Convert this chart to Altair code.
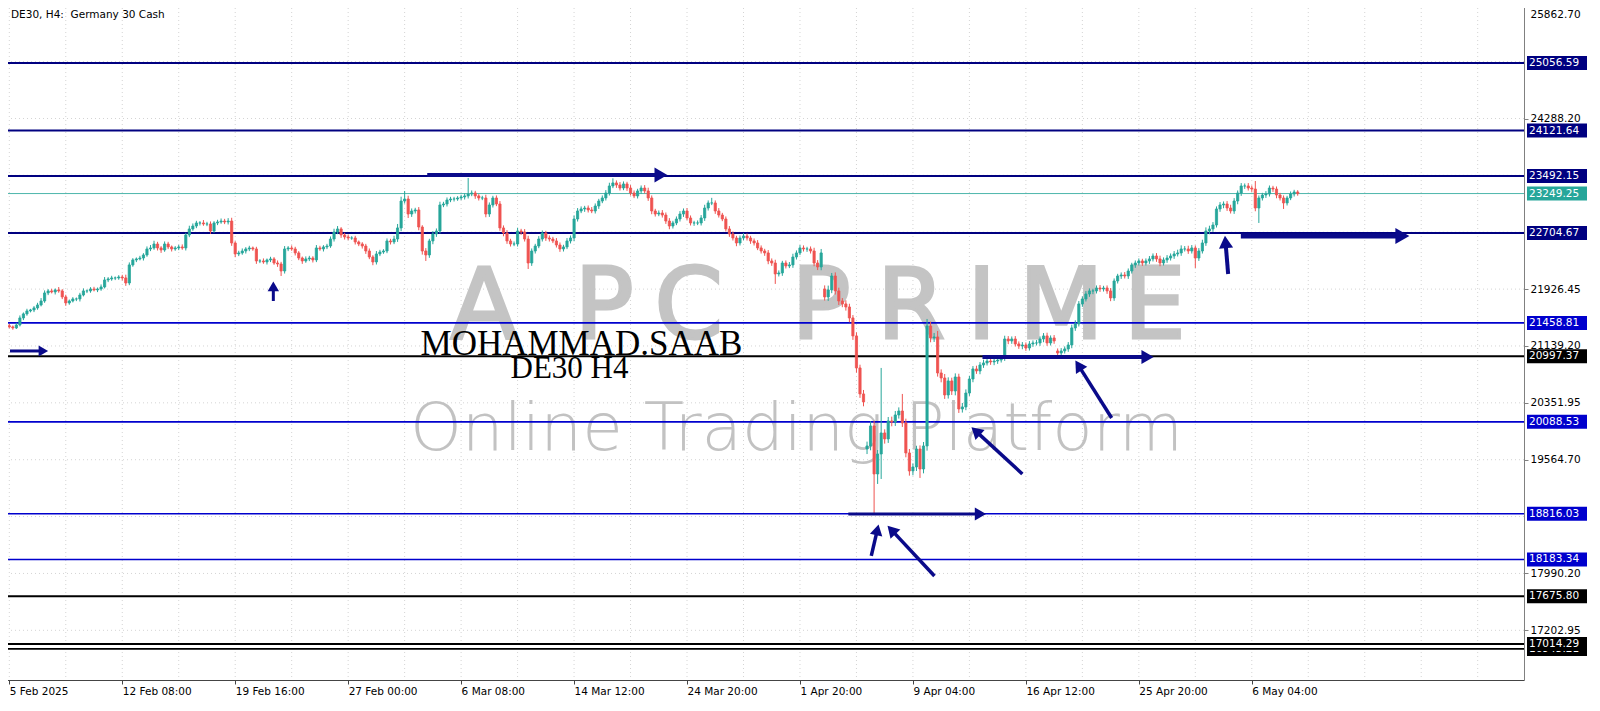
import altair as alt
import pandas as pd

# ---------------- candle data (H4 bars, bar 0 = 5 Feb 2025) ----------------
closes = [
    21403, 21389, 21430, 21527, 21583, 21624, 21638, 21666, 21707, 21762,
    21873, 21901, 21887, 21915, 21901, 21818, 21735, 21762, 21790, 21790,
    21845, 21901, 21901, 21928, 21915, 21928, 21956, 22053, 22067, 22081,
    22081, 22094, 22081, 22011, 22261, 22330, 22344, 22357, 22399, 22482,
    22496, 22551, 22496, 22468, 22551, 22510, 22482, 22496, 22510, 22496,
    22676, 22759, 22800, 22842, 22842, 22828, 22828, 22731, 22842, 22856,
    22869, 22856, 22869, 22565, 22413, 22427, 22454, 22482, 22496, 22482,
    22316, 22316, 22302, 22330, 22344, 22288, 22274, 22177, 22482, 22496,
    22482, 22427, 22357, 22316, 22344, 22357, 22330, 22496, 22482, 22510,
    22523, 22620, 22717, 22759, 22676, 22648, 22634, 22634, 22579, 22551,
    22523, 22454, 22371, 22302, 22413, 22440, 22454, 22593, 22579, 22620,
    22773, 23146, 23174, 22966, 23008, 23022, 22786, 22454, 22399, 22593,
    22690, 22731, 23091, 23105, 23160, 23174, 23174, 23188, 23202, 23216,
    23243, 23257, 23216, 23188, 23188, 22966, 23091, 23188, 23105, 22773,
    22703, 22593, 22551, 22551, 22731, 22717, 22620, 22288, 22454, 22523,
    22620, 22703, 22634, 22620, 22593, 22537, 22482, 22510, 22593, 22634,
    22897, 23008, 23036, 23049, 23022, 23008, 23077, 23146, 23188, 23257,
    23354, 23396, 23368, 23326, 23382, 23326, 23257, 23216, 23285, 23326,
    23285, 23188, 23008, 22966, 22980, 22952, 22869, 22800, 22842, 22897,
    22966, 23008, 22911, 22842, 22842, 22842, 22911, 23049, 23119, 23119,
    23008, 22952, 22897, 22759, 22690, 22634, 22565, 22634, 22662, 22634,
    22593, 22565, 22496, 22454, 22427, 22316, 22288, 22136, 22150, 22288,
    22247, 22261, 22371, 22427, 22496, 22482, 22482, 22454, 22288, 22233,
    22427, 21818, 21915, 22108, 21901, 21762, 21721, 21679, 21527, 21278,
    20835, 20475, 20364, 19755, 20032, 19367, 19644, 19935, 19852, 20101,
    20087, 20184, 20239, 20073, 19658, 19409, 19464, 19713, 19436, 19755,
    21416, 21250, 21264, 20765, 20696, 20461, 20655, 20516, 20710, 20267,
    20295, 20488, 20682, 20821, 20793, 20876, 20904, 20931, 20918, 20931,
    20945, 20973, 21236, 21209, 21236, 21167, 21139, 21153, 21111, 21167,
    21181, 21181, 21236, 21278, 21181, 21250, 21209, 21042, 21070, 21098,
    21153, 21389, 21444, 21721, 21790, 21859, 21901, 21901, 21942, 21928,
    21942, 21901, 21804, 22039, 22108, 22122, 22108, 22177, 22261, 22288,
    22316, 22288, 22316, 22344, 22385, 22344, 22288, 22330, 22357, 22385,
    22413, 22427, 22482, 22482, 22454, 22496, 22357, 22454, 22565, 22731,
    22759, 22814, 23036, 23091, 23105, 23049, 23008, 23146, 23257, 23354,
    23354, 23326, 23312, 23049, 23188, 23229, 23243, 23326, 23312, 23229,
    23188, 23119, 23188, 23243, 23271, 23249,
]
gap_opens = {0: 21420, 231: 21928, 243: 19713, 297: 21070}
up_wick = [
    25, 20, 30, 35, 20, 30, 15, 25, 30, 40, 35, 25, 30, 20, 40, 25, 30, 20, 25, 20,
    30, 35, 20, 25, 30, 20, 35, 40, 25, 30, 20, 25, 30, 45, 35, 25, 20, 30, 25, 35,
    40, 45, 30, 25, 35, 30, 20, 25, 30, 35, 30, 45, 35, 30, 25, 40, 30, 35, 25, 30,
    35, 30, 40, 45, 25, 30, 35, 25, 30, 20, 30, 25, 35, 20, 30, 25, 35, 30, 40, 25,
    35, 30, 25, 20, 35, 30, 25, 40, 30, 25, 30, 35, 45, 40, 25, 30, 35, 25, 30, 20,
    25, 30, 35, 25, 40, 30, 25, 35, 30, 45, 55, 60, 40, 45, 35, 30, 40, 25, 40, 30,
    40, 35, 45, 30, 35, 30, 30, 25, 30, 35, 40, 35, 30, 25, 30, 45, 35, 30, 35, 40,
    35, 40, 30, 35, 45, 30, 40, 45, 35, 30, 40, 35, 30, 35, 30, 40, 35, 30, 40, 35,
    50, 40, 35, 30, 35, 40, 35, 30, 35, 40, 45, 40, 35, 40, 35, 30, 40, 35, 30, 35,
    40, 45, 35, 30, 35, 40, 35, 40, 30, 35, 40, 35, 40, 35, 30, 35, 40, 45, 35, 40,
    35, 40, 30, 35, 40, 35, 30, 35, 40, 35, 30, 35, 40, 35, 30, 40, 35, 45, 35, 30,
    35, 40, 45, 35, 40, 35, 30, 35, 45, 40, 55, 50, 60, 45, 50, 45, 40, 50, 45, 40,
    50, 45, 55, 60, 65, 70, 55, 60, 50, 55, 60, 55, 50, 45, 60, 55, 50, 45, 50, 55,
    80, 60, 55, 60, 50, 55, 50, 45, 50, 45, 55, 50, 45, 40, 45, 40, 45, 40, 35, 40,
    35, 40, 45, 40, 35, 40, 35, 40, 35, 40, 35, 40, 35, 40, 45, 35, 40, 35, 40, 35,
    40, 45, 50, 40, 35, 40, 35, 30, 35, 40, 30, 35, 40, 35, 30, 35, 40, 35, 30, 35,
    35, 30, 35, 40, 35, 40, 45, 35, 40, 35, 40, 45, 50, 40, 45, 40, 35, 40, 45, 50,
    45, 40, 35, 40, 35, 40, 45, 40, 35, 40, 35, 40, 35, 40, 35, 30, 40, 35, 30, 35,
    30, 35, 30, 35, 30, 25,
]
down_wick = [
    20, 25, 15, 20, 30, 25, 20, 30, 25, 20, 25, 30, 20, 35, 25, 30, 40, 25, 20, 30,
    35, 20, 30, 25, 20, 30, 25, 20, 30, 25, 30, 25, 35, 40, 30, 25, 30, 20, 35, 25,
    30, 25, 35, 40, 25, 30, 35, 25, 30, 25, 35, 30, 25, 30, 35, 25, 30, 40, 25, 30,
    25, 30, 35, 40, 45, 30, 25, 35, 30, 25, 40, 30, 25, 35, 30, 25, 40, 30, 35, 30,
    25, 35, 30, 40, 25, 30, 35, 30, 25, 35, 30, 25, 35, 30, 40, 35, 30, 25, 35, 30,
    35, 40, 30, 45, 35, 30, 25, 30, 35, 30, 40, 45, 35, 55, 40, 35, 45, 50, 35, 40,
    45, 40, 35, 30, 35, 30, 35, 25, 30, 35, 35, 30, 40, 35, 30, 45, 40, 35, 30, 40,
    45, 40, 35, 30, 35, 40, 35, 45, 40, 35, 30, 35, 40, 35, 30, 35, 40, 35, 30, 35,
    45, 35, 30, 40, 35, 30, 35, 40, 30, 35, 35, 30, 40, 35, 30, 40, 35, 30, 35, 40,
    35, 40, 45, 35, 30, 35, 40, 45, 35, 30, 35, 40, 30, 35, 40, 30, 35, 40, 35, 30,
    40, 35, 30, 35, 40, 35, 45, 35, 30, 35, 40, 35, 30, 35, 40, 45, 40, 45, 35, 40,
    35, 30, 40, 35, 30, 35, 40, 35, 45, 40, 45, 50, 55, 45, 50, 55, 45, 50, 60, 55,
    65, 55, 60, 70, 60, 50, 55, 60, 65, 55, 60, 55, 50, 55, 60, 65, 60, 55, 50, 60,
    65, 60, 55, 50, 60, 55, 50, 55, 60, 55, 50, 45, 40, 45, 40, 45, 40, 35, 40, 45,
    40, 35, 40, 45, 40, 35, 40, 45, 40, 35, 40, 35, 40, 45, 40, 35, 40, 45, 40, 35,
    40, 45, 40, 35, 40, 35, 40, 45, 35, 40, 35, 40, 45, 40, 35, 40, 35, 40, 35, 40,
    35, 40, 35, 40, 35, 40, 45, 35, 40, 35, 40, 35, 40, 35, 40, 35, 45, 40, 35, 40,
    45, 40, 35, 40, 45, 40, 35, 40, 45, 40, 40, 35, 40, 45, 40, 35, 40, 35, 40, 45,
    35, 40, 35, 30, 35, 30,
]
high_marks = {112: 23285, 130: 23465, 171: 23460, 199: 23190, 233: 22150, 247: 20835,
              253: 20475, 260: 21513, 263: 21347, 353: 23423}
low_marks = {77: 22108, 118: 22316, 147: 22205, 217: 21998, 229: 22190, 245: 18813,
             246: 19229, 247: 19298, 258: 19312, 336: 22219, 354: 22842, 361: 23036}

# ---------------- axes ----------------
x_tick_bars = [0, 32, 64, 96, 128, 160, 192, 224, 256, 288, 320, 352]
x_tick_labels = ["5 Feb 2025", "12 Feb 08:00", "19 Feb 16:00", "27 Feb 00:00", "6 Mar 08:00",
                 "14 Mar 12:00", "24 Mar 20:00", "1 Apr 20:00", "9 Apr 04:00", "16 Apr 12:00",
                 "25 Apr 20:00", "6 May 04:00"]
y_tick_values = [25862.70, 24288.20, 21926.45, 21139.20, 20351.95, 19564.70, 17990.20, 17202.95]
y_grid_values = [25862.70, 25075.45, 24288.20, 23500.95, 22713.70, 21926.45, 21139.20,
                 20351.95, 19564.70, 18777.45, 17990.20, 17202.95]
v_grid_bars = [0, 16, 32, 48, 64, 80, 96, 112, 128, 144, 160, 176, 192, 208, 224, 240, 256,
               272, 288, 304, 320, 336, 352, 368, 384, 400, 416]

# ---------------- horizontal levels ----------------
level_prices = [25056.59, 24121.64, 23492.15, 22704.67, 21458.81, 20997.37, 20088.53,
                18816.03, 18183.34, 17675.80, 17014.29]
level_kind = ["navy", "navy", "navy", "navy", "blue", "black", "blue",
              "blue", "blue", "black", "black"]
hidden_level_price = 16945.21   # second line whose label sits under 17014.29
bid_price = 23249.25

# ---------------- arrows (tail -> head) ----------------
arrow_tail_bar = [0.2, 74.8, 118.4, 348.9, 345.3, 275.7, 312.3, 287.0, 237.7, 244.2, 262.1]
arrow_tail_price = [21070, 21762, 23506, 22662, 22136, 20987, 20142, 19367, 18813, 18232, 17955]
arrow_head_bar = [9.2, 74.8, 184.0, 394.0, 344.6, 321.9, 303.2, 274.2, 274.6, 245.8, 250.3]
arrow_head_price = [21070, 21942, 23506, 22662, 22551, 20987, 20846, 19943, 18813, 18570, 18573]
arrow_angle = [90, 0, 90, 90, 355, 90, 327.5, 312.6, 90, 13, 317]
arrow_width = [3, 3, 4, 5, 4, 4, 3.5, 3.5, 3, 3.5, 3.5]
arrow_head_size = [120, 130, 220, 260, 200, 200, 180, 180, 170, 160, 180]

# ---------------- watermark / annotations ----------------
logo_letters = ["A", "P", "C", "P", "R", "I", "M", "E"]
logo_bars = [134.5, 168.5, 192.5, 230.0, 255.5, 275.5, 298.0, 324.5]
logo_price = 21250
tagline = "Online Trading Platform"
tagline_bar = 223.0
tagline_price = 19699
author = "MOHAMMAD.SAAB"
author_bar, author_price = 116.5, 21012
subtitle = "DE30 H4"
subtitle_bar, subtitle_price = 142.0, 20700
title = "DE30, H4:\u00a0 Germany 30 Cash"

# ---------------- styling ----------------
W, H = 1520, 676
BULL, BEAR = "#26a69a", "#ef5350"
NAVY, BLUE, BLACK = "#000080", "#0000cd", "#000000"
ARROW = "#0a0a8a"
kind_color = {"navy": NAVY, "blue": BLUE, "black": BLACK}
FONT = "DejaVu Sans"

rows = []
for i, c in enumerate(closes):
    o = gap_opens.get(i, closes[i - 1] if i > 0 else c)
    hi = high_marks.get(i, max(o, c) + up_wick[i])
    lo = low_marks.get(i, min(o, c) - down_wick[i])
    rows.append({"bar": i, "open": o, "close": c, "high": hi, "low": lo,
                 "dir": "up" if c >= o else "down"})
candles = pd.DataFrame(rows)

xs = alt.Scale(domain=[-0.085, 427.7], nice=False, zero=False)
ys = alt.Scale(domain=[16515, 25873.3], nice=False, zero=False)

x_axis = alt.Axis(values=x_tick_bars,
                  labelExpr="[" + ",".join("'%s'" % s for s in x_tick_labels) + "][round(datum.value/32)]",
                  labelAlign="left", labelFont=FONT, labelFontSize=10.5, labelColor="#000",
                  labelPadding=2, tickSize=4, tickColor="#444", domainColor="#444",
                  grid=False, title=None, labelFlush=False, labelOverlap=False)
y_axis = alt.Axis(orient="right", values=y_tick_values, format=".2f", labelFont=FONT,
                  labelFontSize=10.5, labelColor="#000", labelPadding=2, tickSize=4,
                  tickColor="#808080", domainColor="#808080", grid=False, title=None,
                  labelFlush=2, labelFlushOffset=-5, labelOverlap=False)


def X(f):
    return alt.X(f, type="quantitative", scale=xs, axis=x_axis)


def Y(f):
    return alt.Y(f, type="quantitative", scale=ys, axis=y_axis)


dir_color = alt.Color("dir:N", scale=alt.Scale(domain=["up", "down"], range=[BULL, BEAR]), legend=None)
dir_stroke = alt.Stroke("dir:N", scale=alt.Scale(domain=["up", "down"], range=[BULL, BEAR]), legend=None)

grid_h = alt.Chart(pd.DataFrame({"p": y_grid_values})).mark_rule(
    color="#d4d4d4", strokeDash=[1, 3], strokeWidth=1).encode(y=Y("p"))
grid_v = alt.Chart(pd.DataFrame({"b": v_grid_bars})).mark_rule(
    color="#d4d4d4", strokeDash=[1, 3], strokeWidth=1).encode(x=X("b"))

logo = alt.Chart(pd.DataFrame({"t": logo_letters, "b": logo_bars,
                               "p": [logo_price] * len(logo_letters)})).mark_text(
    align="center", baseline="alphabetic", font=FONT, fontSize=98, fontWeight="normal",
    color="#c4c4c4", stroke="#c4c4c4", strokeWidth=3).encode(x=X("b"), y=Y("p"), text="t:N")
tag = alt.Chart(pd.DataFrame({"t": [tagline], "b": [tagline_bar], "p": [tagline_price]})).mark_text(
    align="center", baseline="alphabetic", font=FONT, fontSize=66, fontWeight=200,
    color="#c2c2c2").encode(x=X("b"), y=Y("p"), text="t:N")

lv = pd.DataFrame({"p": level_prices,
                   "col": [kind_color[k] for k in level_kind],
                   "line": [kind_color[k] for k in level_kind],
                   "w": [2 if k != "blue" else 1.6 for k in level_kind],
                   "lab": ["%.2f" % p for p in level_prices]})
lv.loc[len(lv)] = [bid_price, BULL, "#4db6ac", 1, "%.2f" % bid_price]
hid = pd.DataFrame({"p": [hidden_level_price], "col": [BLACK], "line": [BLACK], "w": [1.6],
                    "lab": ["%.2f" % hidden_level_price]})
all_lines = pd.concat([lv, hid], ignore_index=True)

level_lines = alt.Chart(all_lines).mark_rule().encode(
    y=Y("p"), color=alt.Color("line:N", scale=None), strokeWidth=alt.StrokeWidth("w:Q", scale=None))

wicks = alt.Chart(candles).mark_rule(strokeWidth=1).encode(
    x=X("bar"), y=Y("low"), y2="high", color=dir_color)
bodies = alt.Chart(candles).mark_bar(size=2.2, strokeWidth=0.8).encode(
    x=X("bar"), y=Y("open"), y2="close", color=dir_color, stroke=dir_stroke)

arr = pd.DataFrame({"tb": arrow_tail_bar, "tp": arrow_tail_price, "hb": arrow_head_bar,
                    "hp": arrow_head_price, "ang": arrow_angle, "w": arrow_width, "hs": arrow_head_size})
shafts = alt.Chart(arr).mark_rule(color=ARROW, strokeCap="butt").encode(
    x=X("tb"), y=Y("tp"), x2="hb", y2="hp", strokeWidth=alt.StrokeWidth("w:Q", scale=None))
heads = alt.Chart(arr).mark_point(filled=True, opacity=1, color=ARROW, shape="triangle").encode(
    x=X("hb"), y=Y("hp"), angle=alt.Angle("ang:Q", scale=None), size=alt.Size("hs:Q", scale=None))

author_t = alt.Chart(pd.DataFrame({"t": [author], "b": [author_bar], "p": [author_price]})).mark_text(
    align="left", baseline="alphabetic", font="Liberation Serif", fontSize=35, color="#000").encode(
    x=X("b"), y=Y("p"), text="t:N")
sub_t = alt.Chart(pd.DataFrame({"t": [subtitle], "b": [subtitle_bar], "p": [subtitle_price]})).mark_text(
    align="left", baseline="alphabetic", font="Liberation Serif", fontSize=31, color="#000").encode(
    x=X("b"), y=Y("p"), text="t:N")


def label_layers(df):
    box = alt.Chart(df).mark_rect(yOffset=-7, y2Offset=7).encode(
        y=Y("p"), y2="p", x=alt.value(W + 3), x2=alt.value(W + 63), color=alt.Color("col:N", scale=None))
    txt = alt.Chart(df).mark_text(align="left", baseline="middle", font=FONT, fontSize=10.5,
                                  color="white").encode(x=alt.value(W + 5), y=Y("p"), text="lab:N")
    return [box, txt]


title_t = alt.Chart(pd.DataFrame({"t": [title]})).mark_text(
    align="left", baseline="top", font=FONT, fontSize=10.5, color="#000").encode(
    x=alt.value(7), y=alt.value(5.5), text="t:N")

chart = alt.layer(grid_h, grid_v, logo, tag, level_lines, wicks, bodies, shafts, heads,
                  author_t, sub_t, *label_layers(hid), *label_layers(lv), title_t).properties(
    width=W, height=H, padding={"left": -5, "top": -5, "right": 0, "bottom": 0}
).configure_view(stroke="#9a9a9a").configure(background="white")

chart.save("out.html", embed_options={"renderer": "svg", "actions": False})
